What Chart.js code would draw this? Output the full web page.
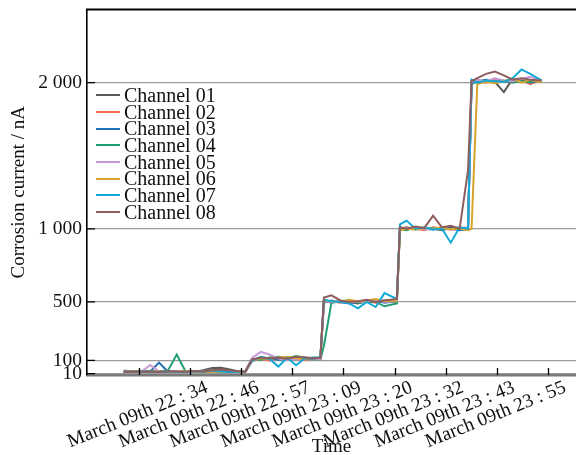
<!doctype html>
<html lang="en">
<head>
  <meta charset="utf-8" />
  <title>Corrosion current</title>
  <script src="https://cdn.jsdelivr.net/npm/chart.js@4.4.1/dist/chart.umd.min.js"></script>
  <style>
    *{box-sizing:border-box;margin:0;padding:0}
    html,body{width:576px;height:455px;overflow:hidden;background:#fff}
    #wrap{position:relative;width:576px;height:455px}
    #legend{position:absolute;left:96px;top:87px;font-family:"Liberation Serif","Times New Roman",serif;font-size:20px;color:#111}
    #legend .row{display:flex;align-items:center;height:16.66px;line-height:16.66px;white-space:nowrap}
    #legend .swatch{width:24px;height:2px;margin-right:4px}
  </style>
</head>
<body>
  <div id="wrap">
    <canvas id="chart" width="576" height="455"></canvas>
    <div id="legend"></div>
  </div>

  <script>
    // minutes after 22:00 on March 9th
    const times = [19,21,23,25,27,29,31,33,35,37,39,41,43,45,46.5,
                   48,50,52,54,56,58,60,62,63.5,
                   64.3,66,68,70,72,74,76,78,80.8,
                   81.5,83,85,87,89,91,93,95,96.9,
                   97.7,99,101,103,105,107,109,111,113.5];

    const channelNames = ['Channel 01','Channel 02','Channel 03','Channel 04','Channel 05','Channel 06','Channel 07','Channel 08'];
    const channelColors = ['#5a5a5a','#ee6a55','#1f6fb4','#1f9e74','#c69ad6','#d8a32a','#12a9d6','#8e5e5e'];

    const ch01 = [28,24,20,22,25,22,24,20,23,32,48,50,38,24,22, 105,112,118,110,115,108,120,112,110, 510,495,505,500,490,505,500,510,515, 1000,1010,995,1005,1000,990,1010,1000,1005, 2010,2005,2015,2005,1935,2025,2010,2015,2010];
    const ch02 = [30,25,22,20,24,28,22,20,24,22,26,22,25,22,20, 95,110,100,115,120,110,105,115,112, 500,505,495,510,500,505,495,505,500, 995,1005,1000,990,1010,1000,995,1005,1000, 2000,2010,2000,2020,2010,2000,2015,1990,2020];
    const ch03 = [22,20,25,24,85,22,20,24,22,25,20,22,24,22,20, 100,120,115,105,110,120,112,108,115, 495,510,500,490,505,500,510,495,505, 1010,995,1005,1000,995,1010,1000,990,1000, 1990,2010,2020,2000,2010,2005,2015,2000,2015];
    const ch04 = [20,24,22,26,22,30,140,24,22,20,22,25,22,24,22, 110,105,120,125,115,130,118,112,105, 200,495,505,510,495,505,500,470,490, 1000,990,1010,1000,1005,995,1000,1010,995, 2005,2000,2010,2005,2015,2000,2010,2005,2020];
    const ch05 = [24,20,22,68,24,22,26,22,20,24,22,28,24,22,25, 115,158,140,112,105,110,118,112,108, 505,500,510,495,505,500,515,500,505, 1005,1000,1010,995,1000,1005,995,1005,1010, 2000,2020,2010,2030,2015,2010,2025,2040,2010];
    const ch06 = [22,25,20,22,24,20,22,26,24,20,22,24,20,22,20, 100,115,110,120,125,115,112,118,120, 510,505,500,515,505,510,520,505,510, 990,1000,995,1005,1000,1010,995,1000,990, 1000,1990,2005,1995,2010,2030,2000,2020,2000];
    const ch07 = [26,22,24,20,22,24,20,22,26,22,30,24,20,22,24, 95,125,110,58,118,67,115,120,122, 515,505,500,490,456,500,465,560,520, 1030,1056,1000,1010,995,1000,905,1010,1000, 2020,2000,2015,2010,2005,2030,2090,2060,2015];
    const ch08 = [20,22,24,22,20,26,24,22,28,24,32,38,30,25,22, 105,120,115,118,112,125,120,115,118, 530,545,510,500,505,515,500,510,520, 1010,1000,1015,1005,1090,1010,1020,1000,1400, 2010,2030,2060,2075,2050,2020,2030,2020,2015];
    const channels = [ch01,ch02,ch03,ch04,ch05,ch06,ch07,ch08];

    // x ticks (minutes after 22:00) and their labels
    const xTickValues = [22.43,34,45.57,57.14,68.71,80.29,91.86,103.43,115];
    const xTickLabels = ['','March 09th 22 : 34','March 09th 22 : 46','March 09th 22 : 57','March 09th 23 : 09',
                         'March 09th 23 : 20','March 09th 23 : 32','March 09th 23 : 43','March 09th 23 : 55'];
    const yTickValues = [10,100,500,1000,2000];
    const yTickLabels = ['10','100','500','1 000','2 000'];

    const FONT = "'Liberation Serif','Times New Roman',serif";
    Chart.defaults.font.family = FONT;
    Chart.defaults.color = '#111';

    // inward tick marks + top frame line
    const frame = {
      id: 'frame',
      afterDraw(chart){
        const {ctx, chartArea:a, scales:{x, y}} = chart;
        ctx.save();
        ctx.strokeStyle = '#000';
        ctx.lineWidth = 1.3;
        ctx.beginPath();
        x.ticks.forEach((t, i) => {
          const px = Math.round(x.getPixelForTick(i)) + 0.5;
          ctx.moveTo(px, a.bottom); ctx.lineTo(px, a.bottom - 7);
        });
        y.ticks.forEach((t, i) => {
          const py = y.getPixelForTick(i);
          ctx.moveTo(a.left, py); ctx.lineTo(a.left + 8, py);
        });
        ctx.stroke();
        ctx.lineWidth = 1.8;
        ctx.beginPath();
        ctx.moveTo(a.left - 1, a.top); ctx.lineTo(a.right, a.top);
        ctx.stroke();
        ctx.restore();
      }
    };

    const datasets = channels.map((vals, i) => ({
      label: channelNames[i],
      data: vals.map((v, k) => ({x: times[k], y: v})),
      borderColor: channelColors[i],
      backgroundColor: channelColors[i],
      borderWidth: 2,
      pointRadius: 0,
      tension: 0,
      order: channels.length - i   // later channels on top
    }));

    new Chart(document.getElementById('chart'), {
      type: 'line',
      data: {datasets},
      options: {
        responsive: false,
        animation: false,
        layout: {padding: {top: 9.5, right: 0, left: 0, bottom: 0}},
        plugins: {legend: {display: false}, tooltip: {enabled: false}},
        scales: {
          x: {
            type: 'linear',
            min: 10.7, max: 121.33,
            afterFit(s){ s.height = 80; s.paddingLeft = 0; s.paddingRight = 0; },
            afterBuildTicks(s){ s.ticks = xTickValues.map(v => ({value: v})); },
            grid: {display: false, drawTicks: false},
            border: {display: true, color: '#7a7a7a', width: 2.5},
            ticks: {
              autoSkip: false, minRotation: 22, maxRotation: 22,
              padding: 1, labelOffset: 17,
              font: {size: 19.5},
              callback: (v, i) => xTickLabels[i]
            },
            title: {display: true, text: 'Time', font: {size: 19, lineHeight: 1}, padding: {top: 0, bottom: -2}}
          },
          y: {
            type: 'linear',
            min: 0, max: 2500,
            afterFit(s){ s.width = 87; s.paddingTop = 0; s.paddingBottom = 0; },
            afterBuildTicks(s){ s.ticks = yTickValues.map(v => ({value: v})); },
            grid: {color: '#9a9a9a', lineWidth: 1.3, drawTicks: false},
            border: {display: true, color: '#000', width: 1.6},
            ticks: {
              autoSkip: false, padding: 5,
              font: {size: 19.5},
              callback: (v, i) => yTickLabels[i]
            },
            title: {display: true, text: 'Corrosion current / nA', font: {size: 19}, padding: {top: 8, bottom: 0}}
          }
        }
      },
      plugins: [frame]
    });

    // legend built from the channel lists
    const legend = document.getElementById('legend');
    channelNames.forEach((n, i) => {
      const row = document.createElement('div');
      row.className = 'row';
      row.innerHTML = `<span class="swatch" style="background:${channelColors[i]}"></span><span>${n}</span>`;
      legend.appendChild(row);
    });
  </script>
</body>
</html>
